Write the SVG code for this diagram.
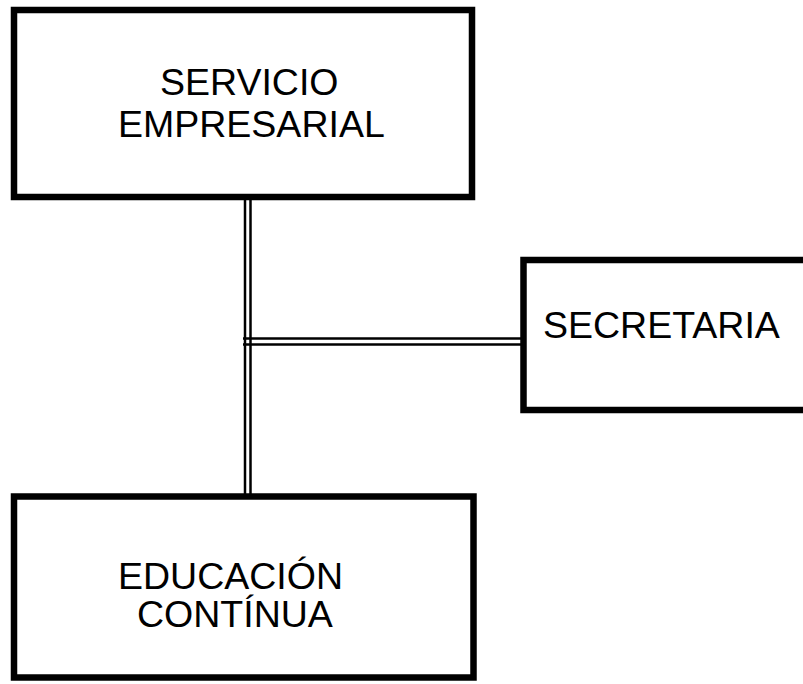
<svg xmlns="http://www.w3.org/2000/svg" width="803" height="684" viewBox="0 0 803 684">
<style>
.box{fill:#fff;stroke:#000;stroke-width:6.5}
.t{font-family:"Liberation Sans",Arial,sans-serif;font-size:37.5px;fill:#000}
.dl{stroke:#000;stroke-width:2.5;fill:none}
</style>
<rect width="803" height="684" fill="#fff"/>
<g id="connectors">
<line class="dl" x1="245" y1="200" x2="245" y2="494"/>
<line class="dl" x1="250.5" y1="200" x2="250.5" y2="494"/>
<line class="dl" x1="243" y1="338.5" x2="521" y2="338.5"/>
<line class="dl" x1="243" y1="344.5" x2="521" y2="344.5"/>
</g>
<g id="servicio">
<rect class="box" x="14" y="10" width="458" height="187"/>
<text class="t" x="160" y="95">SERVICIO</text>
<text class="t" x="118" y="137">EMPRESARIAL</text>
</g>
<g id="secretaria">
<rect class="box" x="523.5" y="260" width="300" height="150"/>
<text class="t" x="543" y="338">SECRETARIA</text>
</g>
<g id="educacion">
<rect class="box" x="14" y="496.5" width="459.5" height="181"/>
<text class="t" x="118" y="589">EDUCACIÓN</text>
<text class="t" x="137" y="627">CONTÍNUA</text>
</g>
</svg>
